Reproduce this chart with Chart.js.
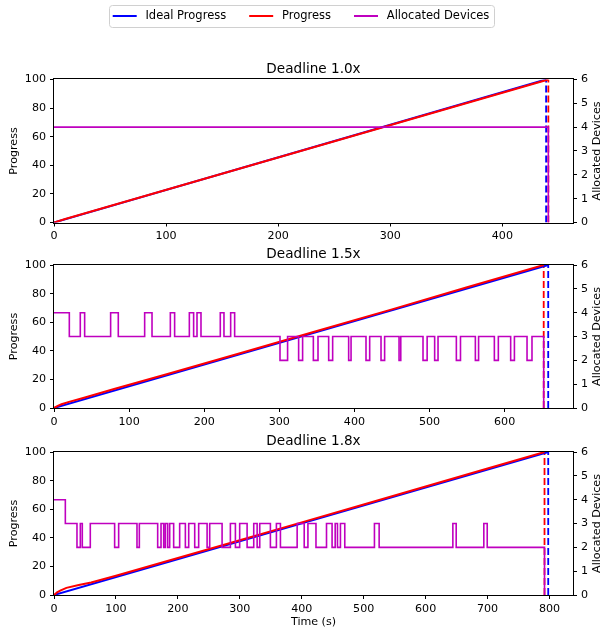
<!DOCTYPE html>
<html><head><meta charset="utf-8">
<script src="https://cdn.jsdelivr.net/npm/chart.js@4.4.0/dist/chart.umd.min.js"></script>
<style>
body{margin:0;background:#fff}
#wrap{position:relative;width:602px;height:631px;overflow:hidden;background:#fff}
canvas{position:absolute;left:0}
</style>
</head><body><div id="wrap">
<canvas id="c1" width="602" height="258" style="top:-13px"></canvas>
<canvas id="c2" width="602" height="187" style="top:245px"></canvas>
<canvas id="c3" width="602" height="199" style="top:432px"></canvas>
</div>
<script>
// ---------- data ----------
const panelTitles = ['Deadline 1.0x', 'Deadline 1.5x', 'Deadline 1.8x'];
const seriesNames = ['Ideal Progress', 'Progress', 'Allocated Devices'];
const xAxisTitle = 'Time (s)';
const leftAxisTitle = 'Progress';
const rightAxisTitle = 'Allocated Devices';
const progressTicks = [0, 20, 40, 60, 80, 100];
const deviceTicks = [0, 1, 2, 3, 4, 5, 6];

// Panel 1 (Deadline 1.0x)
const p1XTicks = [0, 100, 200, 300, 400];
const p1IdealEnd = 439;
const p1ProgEnd = 441;
const p1ProgTime = [0, 10, 441];
const p1ProgVal = [0, 2.4, 100];
const p1AllocTime = [0, 441];
const p1AllocVal = [4, 0];
const p1XMax = 463;

// Panel 2 (Deadline 1.5x)
const p2XTicks = [0, 100, 200, 300, 400, 500, 600];
const p2IdealEnd = 658;
const p2ProgEnd = 652;
const p2ProgTime = [0, 5, 10, 20, 40, 80, 150, 250, 350, 450, 550, 652];
const p2ProgVal = [0, 1.5, 2.6, 4.3, 7.2, 13.3, 23.6, 38.7, 53.9, 69.0, 84.5, 100];
const p2AllocTime = [0, 20.4, 35, 40.8, 75.4, 85.6, 120.7, 130.5, 154.9, 160.6, 180.2, 185.9, 190.4, 195.7,
  221.4, 226.3, 235.2, 240.5, 300.9, 311, 325.7, 331, 345.3, 351.5, 365.7, 371, 392.3, 395.5, 415.4, 420.3,
  435.4, 440.2, 459.4, 461.7, 491.3, 496.8, 506.8, 511.3, 535.7, 541.2, 561, 565.3, 586.3, 591.6, 608, 613,
  629.8, 636.4, 652];
const p2AllocVal = [4, 3, 4, 3, 4, 3, 4, 3, 4, 3, 4, 3, 4, 3,
  4, 3, 4, 3, 2, 3, 2, 3, 2, 3, 2, 3, 2, 3, 2, 3,
  2, 3, 2, 3, 2, 3, 2, 3, 2, 3, 2, 3, 2, 3, 2, 3,
  2, 3, 0];
const p2XMax = 691;

// Panel 3 (Deadline 1.8x)
const p3XTicks = [0, 100, 200, 300, 400, 500, 600, 700, 800];
const p3IdealEnd = 798;
const p3ProgEnd = 792;
const p3ProgTime = [0, 5, 10, 20, 40, 60, 100, 200, 300, 400, 500, 600, 700, 792];
const p3ProgVal = [0, 1.8, 3, 5, 7, 8.8, 13.5, 25.9, 38.3, 50.8, 63.3, 75.9, 88.5, 100];
const p3AllocTime = [0, 18.3, 37.1, 42.5, 45.7, 58.6, 97.9, 104.4, 134, 137.8, 167.4, 172.8, 177.1, 179.8,
  183.5, 186.8, 193.2, 202.9, 212.1, 217.5, 227.2, 233.6, 247.2, 251.4, 271.4, 284.8, 292.9, 299.8,
  311.8, 322.5, 328, 332.2, 349.4, 359.1, 365.6, 392.6, 404, 410, 423, 440, 449, 454, 457.7, 462.5,
  469.5, 517.4, 525, 644, 649.4, 694, 699.5, 792];
const p3AllocVal = [4, 3, 2, 3, 2, 3, 2, 3, 2, 3, 2, 3, 2, 3,
  2, 3, 2, 3, 2, 3, 2, 3, 2, 3, 2, 3, 2, 3,
  2, 3, 2, 3, 2, 3, 2, 3, 2, 3, 2, 3, 2, 3, 2, 3,
  2, 3, 2, 3, 2, 3, 2, 0];
const p3XMax = 838;

// ---------- styling ----------
const FONT = 'DejaVu Sans';
const TICK_SIZE = 11.1, LABEL_SIZE = 11.1, TITLE_SIZE = 13.6, LEGEND_SIZE = 11.5;
Chart.defaults.font.family = FONT;
Chart.defaults.font.size = TICK_SIZE;
Chart.defaults.color = '#000';
Chart.defaults.animation = false;

const BLUE = '#0000ff', RED = '#ff0000', MAG = '#bf00bf';

function pts(xs, ys) { return xs.map((x, i) => ({x: x, y: ys[i]})); }
function fixedTicks(values) { return (s) => { s.ticks = values.map(v => ({value: v})); }; }

const framePlugin = {
  id: 'frame',
  afterDatasetsDraw(chart) {
    const a = chart.chartArea, c = chart.ctx;
    c.save();
    c.strokeStyle = '#000';
    c.lineWidth = 1;
    const l = Math.round(a.left), t = Math.round(a.top), r = Math.round(a.right), b = Math.round(a.bottom);
    c.strokeRect(l - 0.5, t - 0.5, r - l + 1, b - t + 1);
    c.restore();
  }
};

const rightTitlePlugin = {
  id: 'rtitle',
  afterDraw(chart) {
    const a = chart.chartArea, c = chart.ctx;
    c.save();
    c.font = LABEL_SIZE + 'px "DejaVu Sans"';
    c.fillStyle = '#000';
    c.textAlign = 'center';
    c.textBaseline = 'middle';
    c.translate(597.5, (a.top + a.bottom) / 2);
    c.rotate(-Math.PI / 2);
    c.fillText(rightAxisTitle, 0, 0);
    c.restore();
  }
};

// frame + line handles for the legend (Chart.js lays out the legend items and text)
const legendFramePlugin = {
  id: 'lframe',
  afterDraw(chart) {
    const lg = chart.legend;
    if (!lg || !lg.options.display || !lg.legendHitBoxes || !lg.legendHitBoxes.length) return;
    const hb = lg.legendHitBoxes;
    const c = chart.ctx;
    const first = hb[0], last = hb[hb.length - 1];
    const cy = first.top + first.height / 2;
    c.save();
    hb.forEach((h, i) => {
      c.strokeStyle = chart.data.datasets[i].borderColor;
      c.lineWidth = 2;
      c.beginPath();
      c.moveTo(h.left, Math.round(cy));
      c.lineTo(h.left + 24, Math.round(cy));
      c.stroke();
    });
    const x0 = Math.round(first.left - 4) + 0.5, x1 = Math.round(last.left + last.width + 5) + 0.5;
    const y0 = Math.round(cy - 11) + 0.5, y1 = Math.round(cy + 11) + 0.5;
    const r = 3;
    c.strokeStyle = '#d0d0d0';
    c.lineWidth = 1;
    c.beginPath();
    c.moveTo(x0 + r, y0);
    c.lineTo(x1 - r, y0); c.arcTo(x1, y0, x1, y0 + r, r);
    c.lineTo(x1, y1 - r); c.arcTo(x1, y1, x1 - r, y1, r);
    c.lineTo(x0 + r, y1); c.arcTo(x0, y1, x0, y1 - r, r);
    c.lineTo(x0, y0 + r); c.arcTo(x0, y0, x0 + r, y0, r);
    c.closePath();
    c.stroke();
    c.restore();
  }
};

function build(id, o) {
  const tickGrid = {drawOnChartArea: false, drawTicks: true, tickLength: 4, color: '#000', lineWidth: 1};
  const datasets = [
    {label: seriesNames[0], data: pts([0, o.idealEnd], [0, 100]), borderColor: BLUE, backgroundColor: BLUE,
      borderWidth: 2, pointRadius: 0, tension: 0, yAxisID: 'y', order: 2},
    {label: seriesNames[1], data: pts(o.progT, o.progV), borderColor: RED, backgroundColor: RED,
      borderWidth: 2, pointRadius: 0, tension: 0, yAxisID: 'y', order: 1},
    {label: seriesNames[2], data: pts(o.allocT, o.allocV), borderColor: MAG, backgroundColor: MAG,
      borderWidth: 1.6, pointRadius: 0, stepped: 'before', yAxisID: 'y1', order: 0},
    {label: 'ideal end', data: pts([o.idealEnd, o.idealEnd], [0, 100]), borderColor: BLUE, backgroundColor: BLUE,
      borderWidth: 1.8, borderDash: [7, 3], pointRadius: 0, yAxisID: 'y', order: 4},
    {label: 'progress end', data: pts([o.progEnd, o.progEnd], [0, 100]), borderColor: RED, backgroundColor: RED,
      borderWidth: 1.8, borderDash: [7, 3], pointRadius: 0, yAxisID: 'y', order: 3}
  ];
  return new Chart(document.getElementById(id), {
    type: 'line',
    data: {datasets: datasets},
    options: {
      responsive: false,
      animation: false,
      devicePixelRatio: 1,
      events: [],
      layout: {padding: 0},
      plugins: {
        tooltip: {enabled: false},
        legend: {
          display: !!o.legend, position: 'top', weight: 3000, fullSize: true,
          labels: {
            boxWidth: 27, boxHeight: 2, padding: 23, font: {size: LEGEND_SIZE}, color: '#000',
            generateLabels: (chart) => chart.data.datasets.slice(0, 3).map((ds, i) => ({
              text: ds.label, fillStyle: 'rgba(0,0,0,0)', strokeStyle: 'rgba(0,0,0,0)',
              lineWidth: 0, hidden: false, datasetIndex: i, fontColor: '#000'
            }))
          }
        },
        title: {
          display: true, text: o.title, fullSize: false, color: '#000',
          font: {size: TITLE_SIZE, weight: 'normal'},
          padding: {top: o.titleTop, bottom: 2.2}
        }
      },
      scales: {
        x: {
          type: 'linear', min: 0, max: o.xmax,
          afterFit: (s) => { s.height = o.xh; },
          afterBuildTicks: fixedTicks(o.xticks),
          ticks: {padding: 3, font: {size: TICK_SIZE}, maxRotation: 0, autoSkip: false},
          grid: tickGrid, border: {display: false},
          title: {display: !!o.xtitle, text: xAxisTitle, font: {size: LABEL_SIZE}, padding: {top: 0, bottom: 2}}
        },
        y: {
          type: 'linear', position: 'left', min: 0, max: 100,
          afterFit: (s) => { s.width = 54; },
          afterBuildTicks: fixedTicks(progressTicks),
          ticks: {padding: 4, font: {size: TICK_SIZE}, autoSkip: false},
          grid: tickGrid, border: {display: false},
          title: {display: true, text: leftAxisTitle, font: {size: LABEL_SIZE}, padding: {top: 7, bottom: 0}}
        },
        y1: {
          type: 'linear', position: 'right', min: 0, max: 6,
          afterFit: (s) => { s.width = 29; },
          afterBuildTicks: fixedTicks(deviceTicks),
          ticks: {padding: 4, font: {size: TICK_SIZE}, autoSkip: false},
          grid: tickGrid, border: {display: false}
        }
      }
    },
    plugins: [framePlugin, rightTitlePlugin, legendFramePlugin]
  });
}

build('c1', {title: panelTitles[0], legend: true, titleTop: 29.4, xh: 22.5, xmax: p1XMax, xticks: p1XTicks,
  idealEnd: p1IdealEnd, progEnd: p1ProgEnd, progT: p1ProgTime, progV: p1ProgVal, allocT: p1AllocTime, allocV: p1AllocVal});
build('c2', {title: panelTitles[1], legend: false, titleTop: 1.5, xh: 24, xmax: p2XMax, xticks: p2XTicks,
  idealEnd: p2IdealEnd, progEnd: p2ProgEnd, progT: p2ProgTime, progV: p2ProgVal, allocT: p2AllocTime, allocV: p2AllocVal});
build('c3', {title: panelTitles[2], legend: false, titleTop: 1.5, xh: 36, xmax: p3XMax, xticks: p3XTicks, xtitle: true,
  idealEnd: p3IdealEnd, progEnd: p3ProgEnd, progT: p3ProgTime, progV: p3ProgVal, allocT: p3AllocTime, allocV: p3AllocVal});
</script>
</body></html>
